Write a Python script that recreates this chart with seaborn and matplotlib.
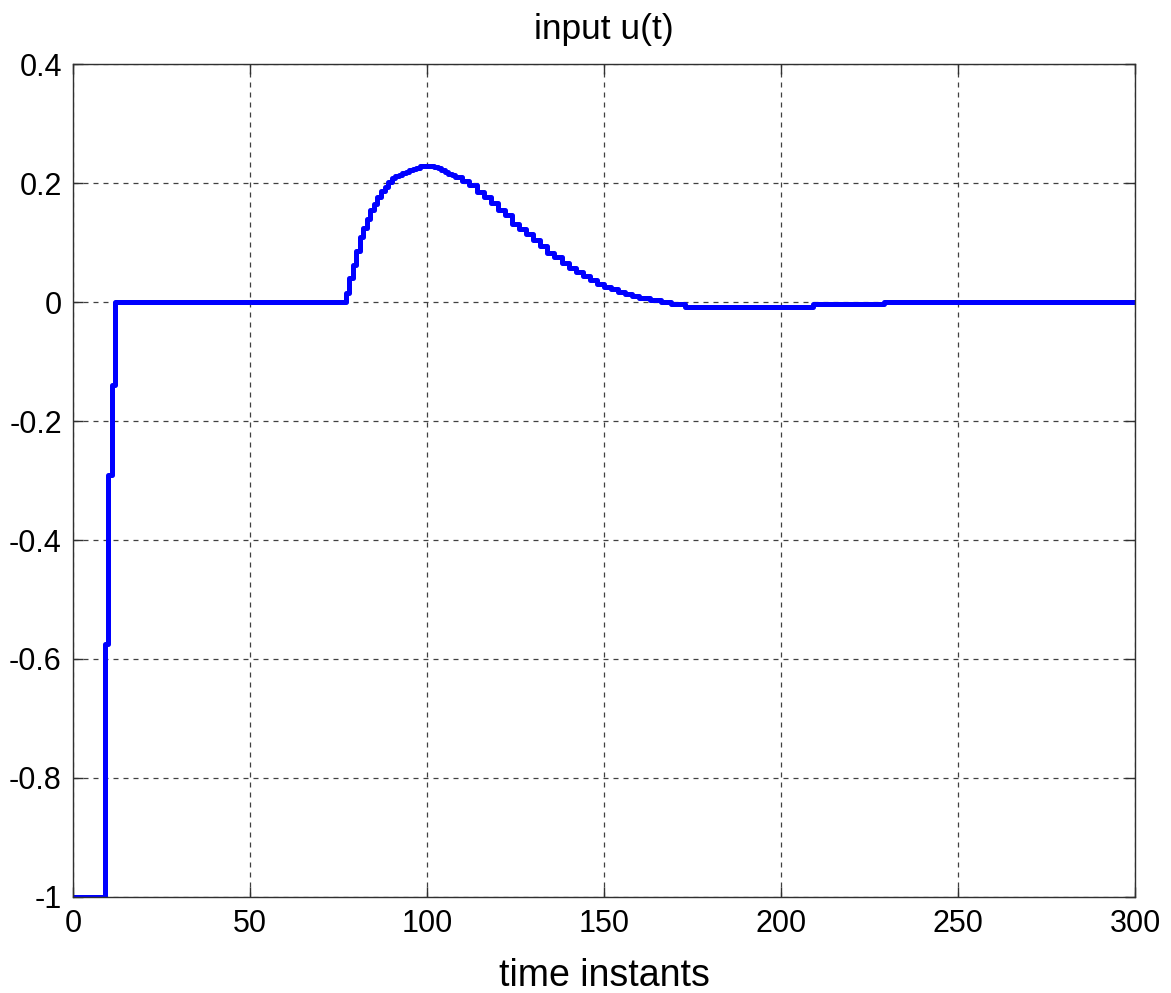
import matplotlib
matplotlib.use("Agg")
import matplotlib.pyplot as plt
import seaborn as sns
import pandas as pd

# breakpoints of the staircase input signal (steps-post)
t_steps = [0, 9, 10, 11, 12, 77, 78, 79, 80, 81, 82, 83, 84, 85, 86, 87, 88, 89, 90,
           91, 92, 93, 94, 95, 96, 97, 98, 100, 102, 103, 104, 105, 106, 107, 108,
           110, 112, 114, 116, 118, 120,
           122, 124, 126, 128, 130, 132, 134, 136, 138, 140, 142, 144, 146, 148,
           150, 152, 154, 156, 158, 160, 163, 166, 169, 173, 209, 229, 300]
u_steps = [-1.0, -0.575, -0.29, -0.14, 0.0, 0.015, 0.04, 0.062, 0.085, 0.11, 0.125,
           0.14, 0.155, 0.165, 0.177, 0.186, 0.194, 0.201, 0.208,
           0.211, 0.214, 0.217, 0.219, 0.222, 0.224, 0.226, 0.228, 0.228, 0.227,
           0.225, 0.222, 0.219, 0.216, 0.213, 0.210,
           0.203, 0.196, 0.185, 0.176, 0.166, 0.155, 0.146, 0.131, 0.122, 0.114,
           0.105, 0.094, 0.083, 0.075, 0.065, 0.057, 0.050, 0.043, 0.037, 0.031,
           0.026, 0.022, 0.017, 0.013, 0.010, 0.007, 0.004, 0.0, -0.003, -0.008,
           -0.003, 0.0, 0.0]

x_ticks = [0, 50, 100, 150, 200, 250, 300]
y_ticks = [-1, -0.8, -0.6, -0.4, -0.2, 0, 0.2, 0.4]
y_tick_labels = ["-1", "-0.8", "-0.6", "-0.4", "-0.2", "0", "0.2", "0.4"]

title_text = "input u(t)"
xlabel_text = "time instants"

sns.set_style("white")
plt.rcParams["font.family"] = ["Liberation Sans", "DejaVu Sans"]
plt.rcParams["text.color"] = "black"
plt.rcParams["axes.labelcolor"] = "black"

fig = plt.figure(figsize=(11.71, 9.93), dpi=100)
ax = fig.add_axes([0.0623, 0.0967, 0.9070, 0.8388])

df = pd.DataFrame({"t": t_steps, "u": u_steps})
sns.lineplot(data=df, x="t", y="u", ax=ax, color="#0000ff", linewidth=3.6,
             drawstyle="steps-post", estimator=None, sort=False)

ax.set_xlim(0, 300)
ax.set_ylim(-1, 0.4)
ax.set_xticks(x_ticks)
ax.set_xticklabels([str(v) for v in x_ticks])
ax.set_yticks(y_ticks)
ax.set_yticklabels(y_tick_labels)

ax.grid(True, color="#404040", linestyle=(0, (4, 4)), linewidth=0.9)
for s in ax.spines.values():
    s.set_color("#303030")
    s.set_linewidth(1.0)
    s.set_visible(True)

ax.tick_params(axis="both", direction="in", length=7, width=1, colors="#303030",
               labelcolor="black", labelsize=22, top=True, right=True,
               bottom=True, left=True)
ax.tick_params(axis="x", pad=9)
ax.tick_params(axis="y", pad=8)

ax.set_title(title_text, fontsize=25.5, pad=18, color="black")
ax.set_xlabel(xlabel_text, fontsize=27, labelpad=13, color="black")
ax.set_ylabel("")

fig.savefig("out.png", dpi=100)
